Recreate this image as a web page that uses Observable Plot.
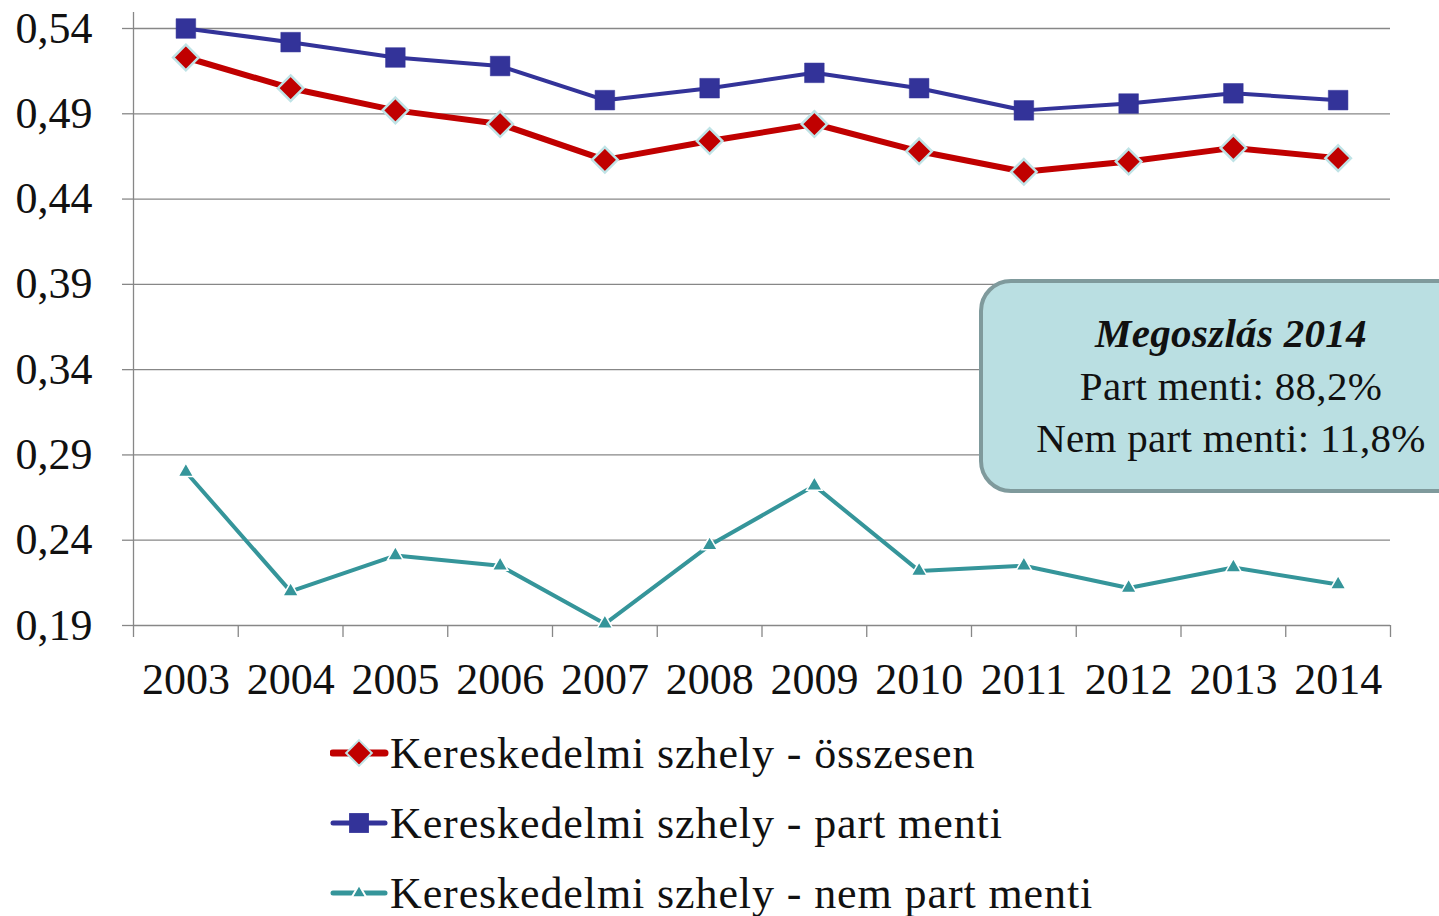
<!DOCTYPE html>
<html>
<head>
<meta charset="utf-8">
<script src="https://cdn.jsdelivr.net/npm/d3@7"></script>
<script src="https://cdn.jsdelivr.net/npm/@observablehq/plot@0.6"></script>
<style>
  html, body { margin: 0; padding: 0; background: #fff; }
  #wrap { position: relative; width: 1439px; height: 916px; overflow: hidden; font-family: "Liberation Serif", "Times New Roman", serif; }
  #note { position: absolute; left: 979px; top: 279px; width: 500px; height: 214px; box-sizing: border-box;
          background: #badfe2; border: 4px solid #7f9a9c; border-radius: 32px; }
  #note div { position: absolute; left: -6px; width: 508px; text-align: center; font-size: 41px; color: #111; letter-spacing: 0.3px; }
  #note .t { font-weight: bold; font-style: italic; }
  .legend { position: absolute; left: 330px; top: 718px; }
  .row { display: flex; align-items: center; height: 70px; font-size: 44px; letter-spacing: 0.9px; color: #111; }
  .row svg { margin-right: 0px; }
</style>
</head>
<body>
<div id="wrap">
  <div id="chart"></div>
  <div id="note"></div>
  <div class="legend" id="legend"></div>
</div>
<script>
const years = [2003, 2004, 2005, 2006, 2007, 2008, 2009, 2010, 2011, 2012, 2013, 2014];
const seriesNames = ["Kereskedelmi szhely - összesen", "Kereskedelmi szhely - part menti", "Kereskedelmi szhely - nem part menti"];
const osszesen     = [0.523, 0.505, 0.492, 0.484, 0.463, 0.474, 0.484, 0.468, 0.456, 0.462, 0.470, 0.464];
const partMenti    = [0.540, 0.532, 0.523, 0.518, 0.498, 0.505, 0.514, 0.505, 0.492, 0.496, 0.502, 0.498];
const nemPartMenti = [0.280, 0.210, 0.231, 0.225, 0.191, 0.237, 0.272, 0.222, 0.225, 0.212, 0.224, 0.214];
const yTicks = [0.19, 0.24, 0.29, 0.34, 0.39, 0.44, 0.49, 0.54];
const noteTitle = "Megoszlás 2014";
const noteLines = ["Part menti: 88,2%", "Nem part menti: 11,8%"];

const colors = ["#c00000", "#333399", "#35959a"];
const widths = [6, 4, 4];

const rows = (vals, s) => years.map((y, i) => ({year: y, value: vals[i], series: s}));
const dRed = rows(osszesen, seriesNames[0]);
const dBlue = rows(partMenti, seriesNames[1]);
const dTeal = rows(nemPartMenti, seriesNames[2]);

const bounds = [...years.map(y => y - 0.5), years[years.length - 1] + 0.5];
const fmt = d => d.toFixed(2).replace(".", ",");

const chart = Plot.plot({
  width: 1439,
  height: 716,
  marginLeft: 133,
  marginRight: 49,
  marginTop: 12,
  marginBottom: 91,
  style: {fontFamily: '"Liberation Serif", "Times New Roman", serif', fontSize: "44px", color: "#111", background: "#fff"},
  x: {type: "linear", domain: [2002.5, 2014.5]},
  y: {domain: [0.19, 0.54], range: [625, 28]},
  marks: [
    Plot.gridY(yTicks, {stroke: "#878787", strokeOpacity: 1, strokeWidth: 1.3}),
    Plot.axisY(yTicks, {tickSize: 11, tickPadding: 30, tickFormat: fmt, stroke: "#878787", strokeWidth: 1.3, label: null, fontSize: 44}),
    Plot.axisX(bounds, {tickSize: 12, tickFormat: () => "", stroke: "#878787", strokeWidth: 1.3, label: null}),
    Plot.axisX(years, {tickSize: 0, tickPadding: 37, tickFormat: d => String(d), label: null, fontSize: 44}),
    Plot.ruleX([2002.5], {stroke: "#878787", strokeWidth: 1.3}),
    Plot.line(dTeal, {x: "year", y: "value", stroke: colors[2], strokeWidth: widths[2]}),
    Plot.dot(dTeal, {x: "year", y: "value", symbol: "triangle2", r: 7.5, fill: colors[2], stroke: "#ffffff", strokeWidth: 1.5}),
    Plot.line(dBlue, {x: "year", y: "value", stroke: colors[1], strokeWidth: widths[1]}),
    Plot.dot(dBlue, {x: "year", y: "value", symbol: "square2", r: 12.5, fill: colors[1], stroke: colors[1], strokeWidth: 0.5}),
    Plot.line(dRed, {x: "year", y: "value", stroke: colors[0], strokeWidth: widths[0]}),
    Plot.dot(dRed, {x: "year", y: "value", symbol: "diamond2", r: 11.5, fill: colors[0], stroke: "#bfe3e6", strokeWidth: 2.5})
  ]
});
document.getElementById("chart").appendChild(chart);

// annotation box
const note = document.getElementById("note");
[[noteTitle, "t", 26], [noteLines[0], "", 79], [noteLines[1], "", 131]].forEach(([txt, cls, top]) => {
  const d = document.createElement("div");
  if (cls) d.className = cls;
  d.style.top = top + "px";
  d.textContent = txt;
  note.appendChild(d);
});

// legend
const symbols = [d3.symbolDiamond2, d3.symbolSquare2, d3.symbolTriangle2];
const symSizes = [420, 500, 150];
const symStroke = ["#bfe3e6", "none", "#ffffff"];
const legend = d3.select("#legend");
seriesNames.forEach((name, i) => {
  const row = legend.append("div").attr("class", "row");
  const s = row.append("svg").attr("width", 60).attr("height", 34);
  s.append("line").attr("x1", 3).attr("x2", 55).attr("y1", 17).attr("y2", 17)
    .attr("stroke", colors[i]).attr("stroke-width", widths[i] + 1).attr("stroke-linecap", "round");
  s.append("path").attr("transform", "translate(29,17)").attr("d", d3.symbol(symbols[i], symSizes[i])())
    .attr("fill", colors[i]).attr("stroke", symStroke[i]).attr("stroke-width", 2);
  row.append("span").text(name);
});
</script>
</body>
</html>
